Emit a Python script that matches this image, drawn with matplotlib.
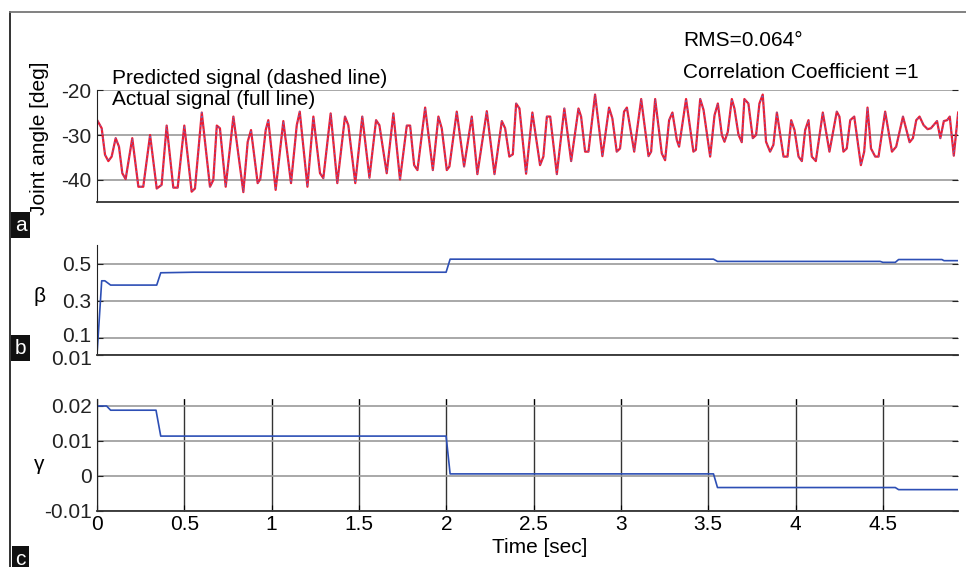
import numpy as np
import matplotlib.pyplot as plt
from matplotlib.lines import Line2D
from matplotlib.transforms import ScaledTranslation

plt.rcParams['font.family'] = ['Liberation Sans', 'DejaVu Sans']
plt.rcParams['axes.unicode_minus'] = False

# joint angle signal (actual == predicted), vertices
t_sig = [0.004, 0.027, 0.046, 0.065, 0.084, 0.107, 0.126, 0.145, 0.164, 0.202,
         0.237, 0.265, 0.304, 0.342, 0.370, 0.399, 0.437, 0.462, 0.500, 0.542,
         0.561, 0.600, 0.647, 0.666, 0.686, 0.704, 0.737, 0.781, 0.838, 0.863,
         0.882, 0.920, 0.935, 0.966, 0.981, 1.023, 1.067, 1.111, 1.144, 1.161,
         1.205, 1.239, 1.277, 1.296, 1.338, 1.376, 1.420, 1.439, 1.479, 1.519,
         1.560, 1.598, 1.617, 1.659, 1.697, 1.735, 1.774, 1.793, 1.816, 1.835,
         1.879, 1.923, 1.955, 1.974, 2.003, 2.018, 2.060, 2.102, 2.146, 2.178,
         2.232, 2.276, 2.318, 2.337, 2.361, 2.381, 2.400, 2.419, 2.457, 2.493,
         2.537, 2.556, 2.576, 2.595, 2.633, 2.676, 2.715, 2.757, 2.772, 2.795,
         2.814, 2.852, 2.894, 2.932, 2.951, 2.976, 2.995, 3.018, 3.034, 3.076,
         3.116, 3.158, 3.173, 3.196, 3.234, 3.253, 3.276, 3.295, 3.320, 3.333,
         3.373, 3.415, 3.429, 3.454, 3.473, 3.511, 3.536, 3.555, 3.578, 3.593,
         3.612, 3.635, 3.650, 3.673, 3.692, 3.707, 3.730, 3.755, 3.774, 3.793,
         3.812, 3.831, 3.854, 3.873, 3.893, 3.931, 3.954, 3.975, 3.994, 4.017,
         4.036, 4.055, 4.074, 4.093, 4.116, 4.156, 4.194, 4.236, 4.251, 4.274,
         4.293, 4.313, 4.336, 4.374, 4.393, 4.412, 4.432, 4.456, 4.475, 4.513,
         4.552, 4.576, 4.615, 4.653, 4.672, 4.691, 4.710, 4.733, 4.756, 4.775,
         4.810, 4.829, 4.849, 4.868, 4.883, 4.906, 4.931]
v_sig = [-26.9, -28.5, -34.4, -35.8, -34.8, -30.7, -32.6, -38.5, -39.8, -30.7,
         -41.5, -41.5, -30.0, -41.9, -41.1, -27.9, -41.7, -41.7, -27.9, -42.6,
         -41.9, -25.0, -41.5, -40.0, -27.9, -28.5, -41.5, -25.9, -42.7, -31.5,
         -28.9, -40.7, -39.8, -28.9, -26.7, -42.2, -26.9, -40.7, -27.8, -24.8,
         -41.5, -25.9, -38.5, -39.6, -25.2, -40.7, -25.9, -27.8, -40.7, -25.9,
         -39.5, -26.7, -27.8, -38.5, -25.2, -39.9, -27.9, -27.9, -36.7, -37.8,
         -23.9, -37.8, -25.9, -28.5, -37.8, -37.0, -24.8, -37.0, -25.9, -38.7,
         -24.7, -38.7, -26.9, -28.5, -34.8, -34.3, -23.0, -24.1, -38.6, -25.0,
         -36.7, -34.8, -25.9, -25.9, -38.7, -24.1, -35.8, -24.1, -25.9, -33.7,
         -33.7, -21.0, -34.7, -23.9, -26.3, -33.7, -33.0, -24.8, -23.9, -33.7,
         -22.0, -34.7, -33.7, -22.0, -34.1, -35.6, -26.7, -25.0, -31.1, -32.6,
         -22.0, -33.7, -33.3, -22.0, -24.4, -34.8, -25.6, -23.0, -30.0, -31.5,
         -29.3, -22.0, -24.1, -29.9, -31.6, -22.0, -23.0, -30.7, -30.0, -23.0,
         -21.0, -31.5, -33.7, -32.2, -25.0, -34.8, -34.8, -26.7, -28.9, -34.8,
         -35.8, -28.9, -26.7, -34.8, -35.8, -25.0, -33.7, -24.8, -25.9, -33.7,
         -33.0, -26.7, -25.9, -36.7, -33.7, -23.9, -33.0, -34.8, -34.8, -24.8,
         -33.7, -32.6, -25.9, -31.6, -30.7, -26.7, -25.9, -27.8, -28.7, -28.5,
         -26.9, -30.7, -26.9, -26.7, -25.9, -34.6, -25.0]

# beta parameter
t_beta = [0.0, 0.027, 0.045, 0.078, 0.342, 0.365, 0.552, 1.999, 2.022,
          3.530, 3.553, 4.485, 4.500, 4.571, 4.590, 4.838, 4.850, 4.93]
v_beta = [0.01, 0.408, 0.408, 0.385, 0.385, 0.451, 0.454, 0.454, 0.524,
          0.524, 0.512, 0.512, 0.507, 0.507, 0.522, 0.522, 0.516, 0.516]

# gamma parameter
t_gamma = [0.0, 0.055, 0.078, 0.338, 0.365, 1.999, 2.022, 3.530, 3.553,
           4.571, 4.590, 4.93]
v_gamma = [0.020, 0.020, 0.0188, 0.0188, 0.0114, 0.0114, 0.0006, 0.0006,
           -0.0033, -0.0033, -0.0039, -0.0039]

x_ticks = [0, 0.5, 1, 1.5, 2, 2.5, 3, 3.5, 4, 4.5]
fs = 15
grid_c = '#9a9a9a'

fig = plt.figure(figsize=(9.66, 5.67), dpi=100)
L, W = 0.1004, 0.8913
ax1 = fig.add_axes([L, 0.6437, W, 0.1975])
ax2 = fig.add_axes([L, 0.3739, W, 0.194])
ax3 = fig.add_axes([L, 0.0988, W, 0.1975])

for ax in (ax1, ax2, ax3):
    ax.set_xlim(0, 4.93)
    ax.spines['top'].set_visible(False)
    ax.spines['right'].set_visible(False)
    ax.spines['left'].set_color('#222222')
    ax.spines['bottom'].set_color('#333333')
    ax.spines['bottom'].set_linewidth(1.3)
    ax.yaxis.grid(True, color=grid_c, lw=1.2)
    ax.set_axisbelow(True)
    ax.tick_params(axis='y', direction='in', length=4, pad=3.8, labelsize=fs,
                   right=True, colors='#222222')
    ax.tick_params(axis='x', direction='in', length=4, labelsize=fs)

# panel a
ax1.plot(t_sig, v_sig, color='#ec1c34', lw=1.6)
ax1.plot(t_sig, v_sig, color='#5a72c8', lw=0.7, ls=(0, (1.5, 3)))
ax1.set_ylim(-44.9, -20)
ax1.set_yticks([-40, -30, -20])
ax1.set_xticks([])

# panel b
ax2.plot(t_beta, v_beta, color='#2d4fb5', lw=1.2)
ax2.set_ylim(0.01, 0.6)
ax2.set_yticks([0.01, 0.1, 0.3, 0.5])
ax2.set_yticklabels(['0.01', '0.1', '0.3', '0.5'])
ax2.set_xticks([])
# nudge the two crowded labels apart a little, as in the original
labs = ax2.get_yticklabels()
labs[0].set_transform(labs[0].get_transform() + ScaledTranslation(0, -1.5 / 72, fig.dpi_scale_trans))
labs[1].set_transform(labs[1].get_transform() + ScaledTranslation(0, 3 / 72, fig.dpi_scale_trans))

# panel c
ax3.plot(t_gamma, v_gamma, color='#2d4fb5', lw=1.2)
ax3.set_ylim(-0.01, 0.022)
ax3.set_yticks([-0.01, 0, 0.01, 0.02])
ax3.set_yticklabels(['-0.01', '0', '0.01', '0.02'])
ax3.set_xticks(x_ticks)
ax3.set_xticklabels(['0', '0.5', '1', '1.5', '2', '2.5', '3', '3.5', '4', '4.5'])
ax3.tick_params(axis='x', top=True, pad=3)
ax3.xaxis.grid(True, color='#333333', lw=1.0)

# labels
fig.text(0.041, 0.757, 'Joint angle [deg]', rotation=90, ha='center', va='center', fontsize=fs)
fig.text(0.041, 0.477, '\u03b2', ha='center', va='center', fontsize=fs)
fig.text(0.041, 0.18, '\u03b3', ha='center', va='center', fontsize=fs)
fig.text(0.559, 0.034, 'Time [sec]', ha='center', va='center', fontsize=fs)
fig.text(0.116, 0.862, 'Predicted signal (dashed line)', ha='left', va='center', fontsize=fs)
fig.text(0.116, 0.824, 'Actual signal (full line)', ha='left', va='center', fontsize=fs)
fig.text(0.707, 0.929, 'RMS=0.064\u00b0', ha='left', va='center', fontsize=fs)
fig.text(0.707, 0.873, 'Correlation Coefficient =1', ha='left', va='center', fontsize=fs)

for lab, y in (('a', 0.603), ('b', 0.386), ('c', 0.014)):
    fig.text(0.0215, y, lab, ha='center', va='center', fontsize=fs, color='white',
             bbox=dict(facecolor='#111111', edgecolor='none', pad=2.5))

# frame lines around the figure
fig.add_artist(Line2D([0.0104, 0.0104], [0.0, 0.979], color='#222222', lw=1.3))
fig.add_artist(Line2D([0.0104, 1.0], [0.979, 0.979], color='#777777', lw=1.3))

fig.savefig('out.png', dpi=100)
